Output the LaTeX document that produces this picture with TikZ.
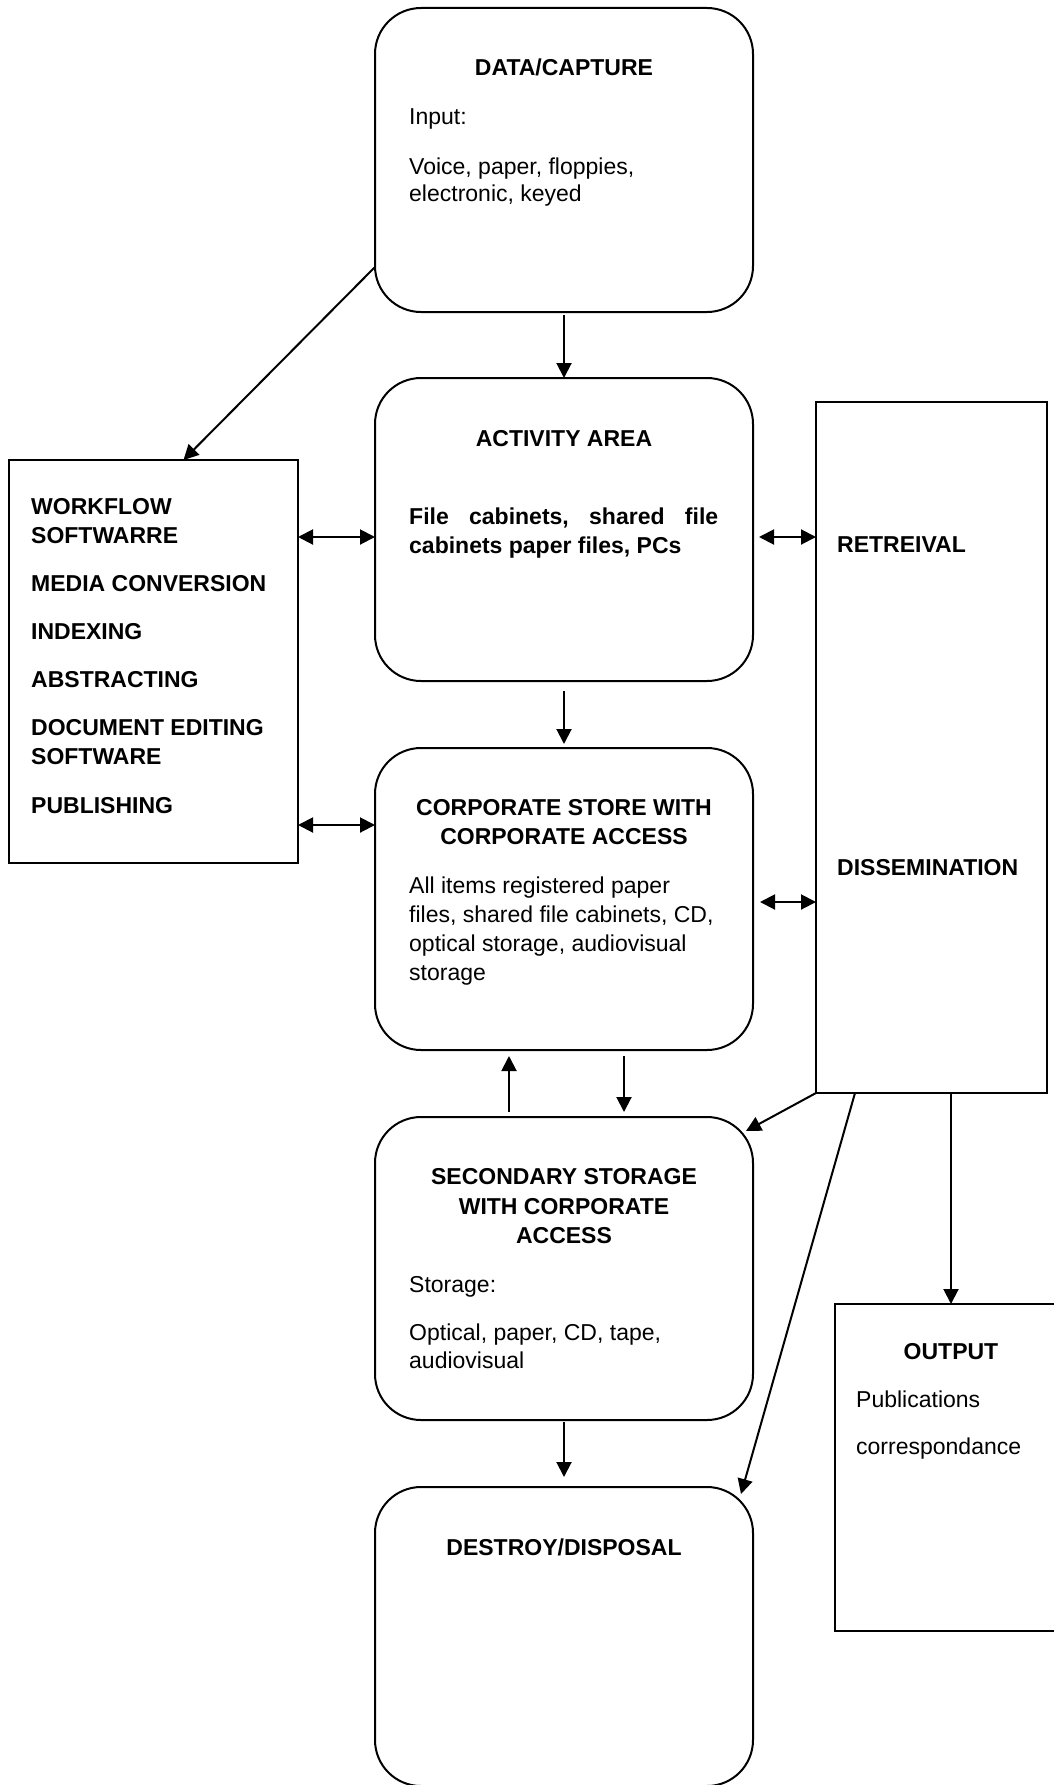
\documentclass[tikz,border=0pt]{standalone}
\usepackage{fontspec}
\setmainfont{Liberation Sans}
\usetikzlibrary{arrows.meta}
\newcommand\mytxt{\fontsize{23}{29}\selectfont}
\newcommand\myhdr{\fontsize{23}{29}\selectfont\bfseries}
\begin{document}
\begin{tikzpicture}[x=1pt,y=-1pt,
  lw/.style={line width=2pt},
  rbox/.style={draw, lw, rectangle, rounded corners=46pt, inner sep=0pt, outer sep=0pt, minimum width=378pt},
  sbox/.style={draw, lw, rectangle, inner sep=0pt, outer sep=0pt},
  hdr/.style={inner sep=0pt, anchor=base, font=\myhdr},
  hdl/.style={inner sep=0pt, anchor=base west, font=\myhdr},
  txt/.style={inner sep=0pt, anchor=base west, font=\mytxt},
  arr/.style={lw, -{Triangle[length=15pt,width=15pt]}},
  dbl/.style={lw, {Triangle[length=15pt,width=15pt]}-{Triangle[length=15pt,width=15pt]}},
]
\useasboundingbox (0,0) rectangle (1054,1785);
\clip (0,0) rectangle (1054,1785);

% boxes
\node[rbox, minimum height=304pt] (cap) at (564,160) {};
\node[rbox, minimum height=303pt] (act) at (564,529.5) {};
\node[rbox, minimum height=302pt] (corp) at (564,899) {};
\node[rbox, minimum height=303pt] (sec) at (564,1268.5) {};
\node[rbox, minimum height=299pt] (des) at (564,1636.5) {};
\node[sbox, minimum width=289pt, minimum height=403pt] (wf) at (153.5,661.5) {};
\node[sbox, minimum width=231pt, minimum height=691pt] (ret) at (931.5,747.5) {};
\node[sbox, minimum width=232pt, minimum height=327pt] (out) at (951,1467.5) {};

% DATA/CAPTURE
\node[hdr] (capH) at (564,76) {DATA/CAPTURE};
\node[txt] (capA) at (409,124) {Input:};
\node[txt] (capB) at (409,174) {Voice, paper, floppies,};
\node[txt] (capC) at (409,201) {electronic, keyed};

% ACTIVITY AREA
\node[hdr] (actH) at (564,446) {ACTIVITY AREA};
\node[hdl] (actA) at (409,524) {\hbox to 309pt{File\hfill cabinets,\hfill shared\hfill file}};
\node[hdl] (actB) at (409,553) {cabinets paper files, PCs};

% CORPORATE STORE
\node[hdr] (corpH1) at (564,815) {CORPORATE STORE WITH};
\node[hdr] (corpH2) at (564,844) {CORPORATE ACCESS};
\node[txt] (corpA) at (409,893) {All items registered paper};
\node[txt] (corpB) at (409,922) {files, shared file cabinets, CD,};
\node[txt] (corpC) at (409,951) {optical storage, audiovisual};
\node[txt] (corpD) at (409,980) {storage};

% SECONDARY STORAGE
\node[hdr] (secH1) at (564,1184) {SECONDARY STORAGE};
\node[hdr] (secH2) at (564,1214) {WITH CORPORATE};
\node[hdr] (secH3) at (564,1243) {ACCESS};
\node[txt] (secA) at (409,1292) {Storage:};
\node[txt] (secB) at (409,1340) {Optical, paper, CD, tape,};
\node[txt] (secC) at (409,1368) {audiovisual};

% DESTROY
\node[hdr] (desH) at (564,1555) {DESTROY/DISPOSAL};

% WORKFLOW box
\node[hdl] (wf1) at (31,514) {WORKFLOW};
\node[hdl] (wf2) at (31,543) {SOFTWARRE};
\node[hdl] (wf3) at (31,591) {MEDIA CONVERSION};
\node[hdl] (wf4) at (31,639) {INDEXING};
\node[hdl] (wf5) at (31,687) {ABSTRACTING};
\node[hdl] (wf6) at (31,735) {DOCUMENT EDITING};
\node[hdl] (wf7) at (31,764) {SOFTWARE};
\node[hdl] (wf8) at (31,813) {PUBLISHING};

% RETRIEVAL box
\node[hdl] (ret1) at (837,552) {RETREIVAL};
\node[hdl] (ret2) at (837,875) {DISSEMINATION};

% OUTPUT box
\node[hdr] (outH) at (951,1359) {OUTPUT};
\node[txt] (outA) at (856,1407) {Publications};
\node[txt] (outB) at (856,1454) {correspondance};

% connectors
\draw[arr, shorten <=3pt] (cap.south) -- (act.north);
\draw[arr, shorten <=10pt, shorten >=4pt] (act.south) -- (corp.north);
\draw[arr, shorten <=6pt, shorten >=5pt] ([xshift=60pt]corp.south) -- ([xshift=60pt]sec.north);
\draw[arr, shorten <=5pt, shorten >=6pt] ([xshift=-55pt]sec.north) -- ([xshift=-55pt]corp.south);
\draw[arr, shorten <=2pt, shorten >=10pt] (sec.south) -- (des.north);
\draw[arr] ([yshift=-107pt]cap.west) -- ([xshift=30pt]wf.north);
\draw[dbl] (wf.east |- 0,537) -- (act.west |- 0,537);
\draw[dbl] (wf.east |- 0,825) -- (corp.west |- 0,825);
\draw[dbl, shorten <=6pt] (act.east |- 0,537) -- (ret.west |- 0,537);
\draw[dbl, shorten <=7pt] (corp.east |- 0,902) -- (ret.west |- 0,902);
\draw[arr] (ret.south west) -- ([xshift=-7pt,yshift=-14pt]sec.north east);
\draw[arr] ([xshift=39pt]ret.south west) -- ([xshift=-12pt,yshift=-7pt]des.north east);
\draw[arr] (ret.south -| out.north) -- (out.north);
\end{tikzpicture}
\end{document}
